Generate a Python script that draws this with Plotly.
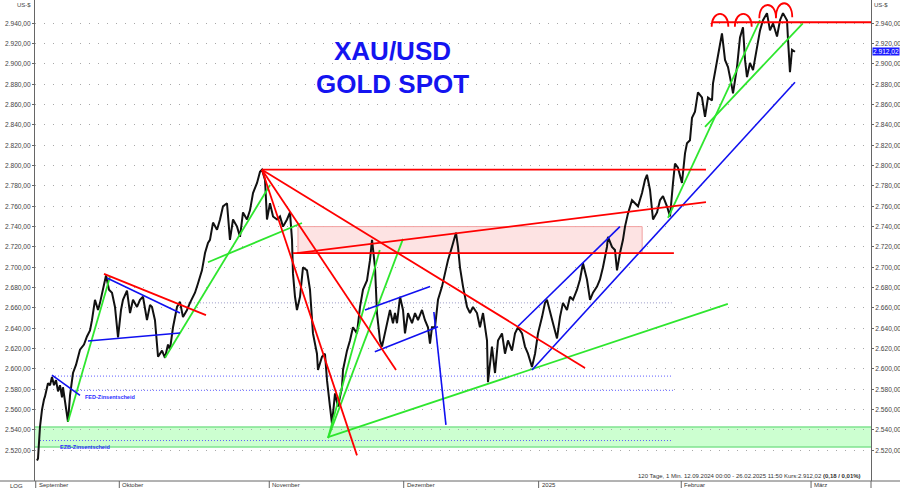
import plotly.graph_objects as go

# ---------------- data ----------------
# price path: trading-day index since 12.09.2024 and XAU/USD price
day = [0.0, 0.16, 0.47, 0.79, 1.10, 1.26, 1.73, 2.05, 2.36, 2.68, 2.99, 3.31, 3.62, 3.94, 4.09, 4.41, 4.88, 5.20,
       5.67, 6.14, 6.77, 7.40, 7.87, 8.35, 8.66, 9.13, 9.61, 9.92, 10.39, 10.87, 11.34, 11.81, 12.28, 12.76, 13.23,
       13.54, 14.17, 14.65, 15.12, 15.75, 16.22, 16.69, 17.32, 17.80, 18.11, 18.58, 19.06, 19.69, 20.16, 20.63, 20.94,
       21.42, 22.05, 22.52, 22.99, 23.62, 24.09, 24.88, 25.35, 25.98, 26.46, 26.93, 27.24, 27.72, 28.35, 28.82, 29.29,
       29.92, 30.39, 30.87, 31.50, 31.97, 32.44, 33.07, 33.54, 34.02, 34.65, 35.12, 35.43, 35.91, 36.22, 36.69, 37.17,
       37.80, 38.27, 38.74, 39.37, 39.84, 40.16, 40.31, 40.63, 40.94, 41.42, 41.89, 42.52, 42.99, 43.46, 44.09, 44.25,
       44.88, 45.35, 45.67, 46.14, 46.46, 46.93, 47.40, 48.03, 48.19, 48.82, 49.29, 49.76, 50.39, 50.87, 51.34, 51.97,
       52.44, 52.76, 53.23, 53.54, 54.02, 54.33, 54.80, 55.28, 55.59, 56.06, 56.38, 56.69, 57.17, 57.64, 57.95, 58.43,
       59.06, 59.53, 60.00, 60.63, 61.10, 61.57, 61.89, 62.20, 62.68, 63.15, 63.78, 64.25, 64.72, 65.35, 65.83, 65.98,
       66.30, 66.61, 67.09, 67.72, 68.19, 68.66, 69.29, 69.76, 70.24, 70.87, 71.02, 71.65, 72.13, 72.60, 73.23, 73.70,
       74.17, 74.80, 75.28, 75.75, 76.38, 76.85, 77.32, 77.95, 78.43, 78.90, 79.53, 80.00, 80.31, 80.79, 81.26, 81.89,
       82.36, 82.83, 83.46, 83.94, 84.41, 85.04, 85.51, 85.98, 86.61, 87.09, 87.56, 88.19, 88.66, 89.13, 89.76, 89.92,
       90.55, 91.02, 91.34, 91.81, 92.28, 92.60, 93.07, 93.70, 94.17, 94.65, 95.28, 95.75, 96.06, 96.54, 97.01, 97.64,
       98.11, 98.58, 99.21, 99.69, 100.16, 100.47, 100.94, 101.57, 102.05, 102.36, 102.83, 103.15, 103.62, 104.09,
       104.72, 105.20, 105.67, 106.30, 106.46, 107.09, 107.56, 107.87, 108.35, 108.82, 109.45, 109.61, 110.24, 110.71,
       111.18, 111.50, 111.81, 112.28, 112.76, 113.39, 113.86, 114.33, 114.96, 115.43, 115.91, 116.54, 117.01, 117.48,
       118.11, 118.27, 118.58, 118.90, 119.37]
price = [2510, 2512, 2543, 2560, 2570, 2573, 2586, 2584, 2592, 2584, 2589, 2578, 2584, 2572, 2582, 2569, 2548, 2574,
         2596, 2604, 2619, 2624, 2632, 2638, 2648, 2668, 2658, 2665, 2678, 2692, 2678, 2675, 2661, 2631, 2658,
         2668, 2677, 2655, 2668, 2661, 2668, 2671, 2648, 2663, 2661, 2648, 2612, 2618, 2611, 2624, 2619,
         2641, 2661, 2666, 2651, 2658, 2665, 2675, 2684, 2697, 2714, 2724, 2727, 2744, 2737, 2747, 2760,
         2763, 2727, 2747, 2740, 2730, 2754, 2747, 2756, 2773, 2783, 2794, 2796, 2786, 2747, 2763, 2750,
         2747, 2750, 2740, 2747, 2754, 2727, 2694, 2671, 2658, 2671, 2700, 2697, 2678, 2635, 2615, 2599,
         2612, 2615, 2589, 2563, 2546, 2576, 2563, 2582, 2599, 2618, 2628, 2641, 2635, 2661, 2678, 2687,
         2707, 2727, 2700, 2655, 2628, 2622, 2635, 2648, 2658, 2645, 2655, 2645, 2671, 2658, 2635, 2655,
         2645, 2655, 2648, 2658, 2648, 2641, 2625, 2641, 2641, 2668, 2681, 2694, 2707, 2720, 2730, 2734,
         2720, 2700, 2681, 2661, 2655, 2661, 2655, 2641, 2655, 2628, 2587, 2622, 2596, 2628, 2635, 2615,
         2628, 2618, 2635, 2641, 2635, 2622, 2615, 2602, 2615, 2635, 2651, 2665, 2668, 2655, 2645, 2630,
         2651, 2665, 2658, 2671, 2668, 2678, 2688, 2704, 2688, 2668, 2675, 2681, 2688, 2700, 2720, 2730,
         2720, 2717, 2697, 2714, 2727, 2740, 2753, 2766, 2763, 2760, 2773, 2786, 2791, 2776, 2747, 2754,
         2766, 2770, 2760, 2750, 2783, 2802, 2798, 2783, 2812, 2822, 2825, 2847, 2853, 2872,
         2867, 2848, 2867, 2864, 2881, 2904, 2917, 2930, 2904, 2897, 2877, 2871, 2897, 2926,
         2936, 2904, 2887, 2901, 2894, 2917, 2933, 2943, 2950, 2933, 2940, 2927, 2943, 2950,
         2943, 2924, 2892, 2914, 2912.02]

# month ticks (trading-day index)
month_pos = [-0.2, 12.96, 36.58, 57.75, 79.0, 101.46, 121.9]
month_lbl = ["September", "Oktober", "November", "Dezember", "2025", "Februar", "März"]

y_ticks = list(range(2520, 2941, 20))
last_price = 2912.02

# drawn analysis objects: (day0, price0, day1, price1)
red_lines = [
    (106.3, 2941, 131.4, 2941),
    (35.43, 2796, 105.35, 2796),
    (40.3, 2714, 100.3, 2714),
    (40.9, 2714, 105.35, 2764),
    (35.43, 2796, 50.39, 2515),
    (35.43, 2796, 56.54, 2599),
    (35.43, 2796, 86.3, 2601),
    (10.55, 2693.5, 26.61, 2653),
]
green_lines = [
    (4.88, 2548, 11.5, 2690.6),
    (20.16, 2611, 36.7, 2781),
    (26.93, 2705, 41.73, 2743.6),
    (45.83, 2532, 57.64, 2728),
    (45.83, 2532, 53.98, 2717),
    (45.83, 2533, 108.8, 2664),
    (99.37, 2748.5, 113.86, 2943),
    (105.2, 2838, 120.6, 2940),
]
blue_lines = [
    (2.36, 2594, 6.77, 2574),
    (11.02, 2689.5, 22.52, 2655),
    (8.03, 2627.5, 22.52, 2635.4),
    (51.65, 2658, 61.9, 2681),
    (53.2, 2617, 63.15, 2641.6),
    (62.5, 2656, 64.4, 2545),
    (75.75, 2642, 91.8, 2740),
    (77.95, 2599, 119.37, 2882),
]
# dotted levels: (day0, day1, price)
blue_levels = [(2.36, 100.16, 2593), (5.98, 100.16, 2579), (0.47, 100.16, 2529.6)]
grey_levels = [(23.3, 100.16, 2665)]
# zones
green_zone = (2523.2, 2542.9)
pink_zone = (41.1, 95.3, 2714, 2740)
# arcs over the tops: (day0, day1, base price, top price)
arcs = [(106.25, 108.87, 2936.7, 2949.2), (109.9, 112.55, 2936.7, 2949.2),
        (113.75, 116.38, 2944.9, 2958.0), (116.38, 118.94, 2945.9, 2959.7)]

x_range = [-0.315, 131.34]
y_range = [2489.8, 2962.9]

RED, GREEN, BLUE = "#ff0000", "#2ee62e", "#1010f0"
FONT = "Liberation Sans"

fig = go.Figure()
fig.add_trace(go.Scatter(x=day, y=price, mode="lines", line=dict(color="#111111", width=2),
                         hoverinfo="skip", showlegend=False))
fig.add_trace(go.Scatter(x=[day[0]], y=[price[0]], yaxis="y2", mode="markers",
                         marker=dict(opacity=0), hoverinfo="skip", showlegend=False))

shapes = []
# zones
shapes.append(dict(type="rect", xref="paper", yref="y", x0=0, x1=1, y0=green_zone[0], y1=green_zone[1],
                   fillcolor="#ccffd0", line=dict(width=0), layer="between"))
for yv in green_zone:
    shapes.append(dict(type="line", xref="paper", yref="y", x0=0, x1=1, y0=yv, y1=yv,
                       line=dict(color="#7fe38f", width=1.5), layer="between"))
shapes.append(dict(type="rect", xref="x", yref="y", x0=pink_zone[0], x1=pink_zone[1], y0=pink_zone[2],
                   y1=pink_zone[3], fillcolor="#fde3e3", line=dict(color="#f2a0a0", width=1), layer="between"))
for d0, d1, p in blue_levels:
    shapes.append(dict(type="line", xref="x", yref="y", x0=d0, x1=d1, y0=p, y1=p,
                       line=dict(color="#5a5aff", width=1, dash="1px,2px"), layer="between"))
for d0, d1, p in grey_levels:
    shapes.append(dict(type="line", xref="x", yref="y", x0=d0, x1=d1, y0=p, y1=p,
                       line=dict(color="#9a9ac8", width=1, dash="1px,2px"), layer="between"))
for col, lines, w in ((GREEN, green_lines, 1.8), (BLUE, blue_lines, 1.6), (RED, red_lines, 1.8)):
    for d0, p0, d1, p1 in lines:
        shapes.append(dict(type="line", xref="x", yref="y", x0=d0, y0=p0, x1=d1, y1=p1,
                           line=dict(color=col, width=w)))
for d0, d1, pb, pt in arcs:
    pc = pb + (pt - pb) / 0.75
    shapes.append(dict(type="path", xref="x", yref="y",
                       path=f"M {d0},{pb} C {d0},{pc} {d1},{pc} {d1},{pb}",
                       line=dict(color=RED, width=1.8)))
# bottom axis line and month ticks
shapes.append(dict(type="line", xref="paper", yref="paper", x0=-35 / 836, x1=1 + 29 / 836, y0=0, y1=0,
                   line=dict(color="#666666", width=1)))
for m in month_pos:
    shapes.append(dict(type="line", xref="x", yref="paper", x0=m, x1=m, y0=0, y1=-0.016,
                       line=dict(color="#666666", width=1)))
shapes.append(dict(type="line", xref="paper", yref="paper", x0=1, x1=1, y0=0, y1=-0.016,
                   line=dict(color="#666666", width=1)))

annotations = []
for m, lbl in zip(month_pos, month_lbl):
    annotations.append(dict(x=m, y=0, xref="x", yref="paper", text=lbl, showarrow=False,
                            xanchor="left", yanchor="top", xshift=1, yshift=1,
                            font=dict(size=6, color="#333333", family=FONT)))
annotations += [
    dict(x=0.428, y=0.894, xref="paper", yref="paper", text="<b>XAU/USD</b>", showarrow=False,
         xanchor="center", yanchor="middle", font=dict(size=26, color="#1414f0", family=FONT)),
    dict(x=0.428, y=0.825, xref="paper", yref="paper", text="<b>GOLD SPOT</b>", showarrow=False,
         xanchor="center", yanchor="middle", font=dict(size=26, color="#1414f0", family=FONT)),
    dict(x=0.9904, y=0.0104, xref="paper", yref="paper", xanchor="right", yanchor="middle", showarrow=False,
         text="120 Tage, 1 Min. 12.09.2024 00:00 - 26.02.2025 11:50 Kurs:2.912,02 <b>(0,18 / 0,01%)</b>",
         font=dict(size=6, color="#333333", family=FONT)),
    dict(x=0, y=1, xref="paper", yref="paper", xanchor="right", yanchor="top", xshift=-2, showarrow=False,
         text="US-$", font=dict(size=6, color="#444444", family=FONT)),
    dict(x=1, y=1, xref="paper", yref="paper", xanchor="left", yanchor="top", xshift=1, showarrow=False,
         text="US-$", font=dict(size=6, color="#444444", family=FONT)),
    dict(x=-35 / 836, y=0, xref="paper", yref="paper", xanchor="left", yanchor="top", xshift=8, showarrow=False,
         text="LOG", font=dict(size=6, color="#333333", family=FONT)),
    dict(x=1, y=last_price, xref="paper", yref="y", xanchor="left", yanchor="middle", xshift=1, showarrow=False,
         text="2.912,02", bgcolor="#1a1aff", borderpad=0, font=dict(size=6.6, color="white", family=FONT)),
    dict(x=7.24, y=2572.4, xref="x", yref="y", xanchor="left", yanchor="middle", showarrow=False,
         text="<b>FED-Zinsentscheid</b>", font=dict(size=5.5, color="#2a2aff", family=FONT)),
    dict(x=3.3, y=2523.2, xref="x", yref="y", xanchor="left", yanchor="middle", showarrow=False,
         text="<b>EZB-Zinsentscheid</b>", font=dict(size=5.5, color="#2a2aff", family=FONT)),
]

axis_common = dict(range=y_range, tickvals=y_ticks, tickformat=",.2f", ticks="outside", ticklen=2,
                   tickcolor="#666666", showline=True, linecolor="#666666", linewidth=1, zeroline=False,
                   automargin=False, tickfont=dict(size=6.6, color="#444444", family=FONT), fixedrange=True)

fig.update_layout(
    width=900, height=488, margin=dict(l=35, r=29, t=0, b=7),
    paper_bgcolor="white", plot_bgcolor="white", separators=",.",
    showlegend=False,
    xaxis=dict(range=x_range, showgrid=False, showticklabels=False, zeroline=False, showline=False, ticks="",
               automargin=False, fixedrange=True),
    yaxis=dict(side="left", showgrid=True, gridcolor="#a8a8a8", griddash="1px,8px", gridwidth=1, **axis_common),
    yaxis2=dict(side="right", overlaying="y", showgrid=False, **axis_common),
    shapes=shapes, annotations=annotations,
)

fig.write_html("out.html", config={"displayModeBar": False, "staticPlot": True},
               post_script="document.body.style.margin='0';document.body.style.overflow='hidden';")
